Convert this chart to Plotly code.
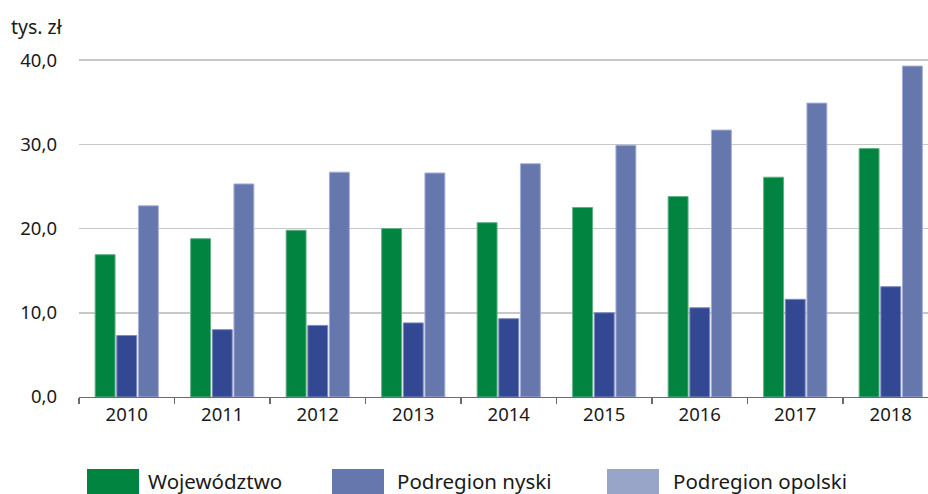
import plotly.graph_objects as go

years = ["2010", "2011", "2012", "2013", "2014", "2015", "2016", "2017", "2018"]
wojewodztwo = [16.9, 18.8, 19.8, 20.0, 20.7, 22.5, 23.8, 26.1, 29.5]
podregion_nyski = [7.3, 8.0, 8.5, 8.8, 9.3, 10.0, 10.6, 11.6, 13.1]
podregion_opolski = [22.7, 25.3, 26.7, 26.6, 27.7, 29.9, 31.7, 34.9, 39.3]
series_names = ["Województwo", "Podregion nyski", "Podregion opolski"]
y_ticks = [0, 10, 20, 30, 40]
unit_label = "tys. zł"

bar_colors = ["#00843F", "#334892", "#6677AE"]
bar_edges = ["#5fb184", "#7d8cc0", "#a3afd6"]
legend_colors = ["#00843F", "#6677AE", "#98A5C9"]

FONT = "Noto Sans"
TXT = "#1a1a1a"

W, H = 928, 494
L, R, T, B = 79, 0, 45, 97
PW = W - L - R
PH = H - T - B

fig = go.Figure()
for vals, c, e, n in zip([wojewodztwo, podregion_nyski, podregion_opolski], bar_colors, bar_edges, series_names):
    fig.add_trace(go.Bar(x=years, y=vals, name=n, marker=dict(color=c, line=dict(color=e, width=1)),
                         showlegend=False))

def px_x(px):
    return (px - L) / PW

def px_y(py):
    return (H - B - py) / PH

shapes = []
annotations = []
legend_swatch_x = [87, 332, 607]
legend_text_x = [146, 395, 671]
for sx, tx, col, name in zip(legend_swatch_x, legend_text_x, legend_colors, series_names):
    shapes.append(dict(type="rect", xref="paper", yref="paper",
                       x0=px_x(sx), x1=px_x(sx + 52), y0=px_y(469), y1=px_y(500),
                       fillcolor=col, line=dict(width=0), layer="above"))
    annotations.append(dict(text=name, xref="paper", yref="paper", x=px_x(tx), y=px_y(481),
                            xanchor="left", yanchor="middle", showarrow=False,
                            font=dict(family=FONT, size=20.5, color=TXT)))

annotations.append(dict(text=unit_label, xref="paper", yref="paper", x=px_x(9), y=px_y(26),
                        xanchor="left", yanchor="middle", showarrow=False,
                        font=dict(family=FONT, size=19.5, color=TXT)))

fig.update_layout(
    width=W, height=H,
    margin=dict(l=L, r=R, t=T, b=B, pad=0),
    paper_bgcolor="white", plot_bgcolor="white",
    barmode="group", bargap=0.32, bargroupgap=0.08,
    separators=", ",
    font=dict(family=FONT, size=18.5, color=TXT),
    shapes=shapes, annotations=annotations,
    showlegend=False,
    hovermode=False,
)
fig.update_xaxes(range=[-0.5, -0.5 + PW / 95.5], tickson="boundaries", ticks="outside", ticklen=6,
                 tickcolor="#6b6b6b", tickwidth=1.3, showline=True, linecolor="#6b6b6b", linewidth=1.3,
                 showgrid=False, tickfont=dict(family=FONT, size=18.5, color=TXT), fixedrange=True)
fig.update_yaxes(range=[0, 41.8], tickvals=y_ticks, tickformat=".1f", showgrid=True,
                 gridcolor="#c8c8c8", gridwidth=1.5, zeroline=False, showline=False, fixedrange=True,
                 ticks="", ticklabelstandoff=21, tickfont=dict(family=FONT, size=18.5, color=TXT))

fig.write_html("out.html", config={"displayModeBar": False, "staticPlot": True},
               post_script="document.documentElement.style.margin='0';document.body.style.margin='0';"
                           "document.body.style.padding='0';document.body.style.overflow='hidden';"
                           "document.documentElement.style.overflow='hidden';")
